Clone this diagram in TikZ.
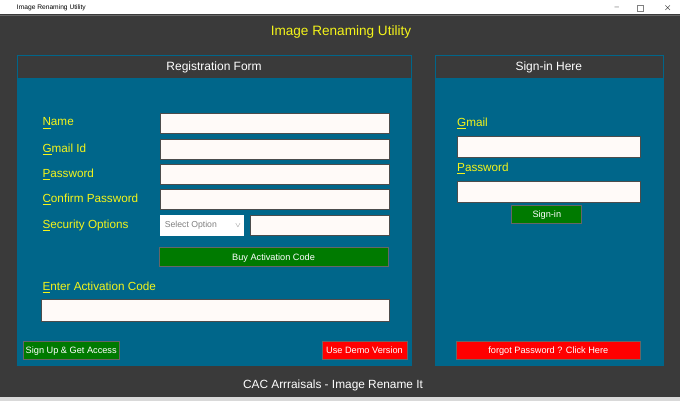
\documentclass[tikz,border=0pt]{standalone}
\usepackage{fontspec}
\setmainfont{Liberation Sans}
\usepackage{xcolor}
\definecolor{winbg}{HTML}{3A3A3A}
\definecolor{teal}{HTML}{00668A}
\definecolor{ygold}{HTML}{F4F41A}
\definecolor{entrybg}{HTML}{FFFAF8}
\definecolor{btngreen}{HTML}{007A00}
\begin{document}
\begin{tikzpicture}[x=0.75pt,y=-0.75pt,
  lbl/.style={anchor=west,inner sep=0pt,text=ygold,font=\fontsize{8.8}{10}\selectfont},
  entry/.style={fill=entrybg,draw=black!70,line width=0.6pt},
  btn/.style={draw=black!60,line width=0.6pt,text=white,inner sep=0pt,
    font=\fontsize{6.9}{8}\selectfont,text depth=0pt}]
\fill[winbg] (0,0) rectangle (680,400);
\fill[white] (0,0) rectangle (680,13);
\draw[black!60] (0,13.5) -- (680,13.5);
\fill[black!15] (0,396) rectangle (680,400);
\node[anchor=west,font=\fontsize{5}{6}\selectfont] (wtitle) at (12,6.5) {Image Renaming Utility};
\node[font=\fontsize{6}{6}\selectfont,text=black!60] (wmin) at (617,6.5) {--};
\draw[black!50] (637,3.5) rectangle (643,9.5);
\node[font=\fontsize{7}{7}\selectfont] (wclose) at (668,6.5) {$\times$};
\node[text=ygold,font=\fontsize{10.2}{12}\selectfont] (title) at (341,31) {Image Renaming Utility};
% panels
\fill[teal] (17,54) rectangle (412,365);
\fill[winbg] (18,55) rectangle (411,77);
\node[text=white,font=\fontsize{9}{10}\selectfont] (reghead) at (214,66) {Registration Form};
\fill[teal] (435,54) rectangle (664,365);
\fill[winbg] (436,55) rectangle (663,77);
\node[text=white,font=\fontsize{9}{10}\selectfont] (signhead) at (549,66) {Sign-in Here};
% registration fields
\foreach \y/\t/\n in {122/{\underline{N}ame}/name, 148/{\underline{G}mail Id}/gmail,
    173/{\underline{P}assword}/pass, 198/{\underline{C}onfirm Password}/conf,
    224/{\underline{S}ecurity Options}/secu}{
  \node[lbl] (l\n) at (42,\y) {\t};
}
\foreach \y/\n in {122/name, 148/gmail, 173/pass, 198/conf}{
  \draw[entry] (160,\y-10) rectangle (389,\y+10);
}
\draw[fill=white,draw=white] (160,214) rectangle (243,234);
\node[anchor=west,text=black!50,font=\fontsize{6.5}{7}\selectfont] (select) at (160,224) {Select Option};
\node[text=black!50,font=\fontsize{5}{6}\selectfont] (selarrow) at (238,224) {$\vee$};
\draw[entry] (250,214) rectangle (389,234);
\node[btn,fill=btngreen,minimum width=229*0.75pt,minimum height=19*0.75pt] (buy) at (273.5,255.5) {Buy Activation Code};
\node[lbl] (lcode) at (42,286) {\underline{E}nter Activation Code};
\draw[entry] (41,298) rectangle (389,320);
\node[btn,fill=btngreen,minimum width=96*0.75pt,minimum height=18*0.75pt] (signup) at (71,349) {Sign Up \& Get Access};
\node[btn,fill=red,minimum width=85*0.75pt,minimum height=18*0.75pt] (demo) at (364.5,349) {Use Demo Version};
% sign-in
\node[lbl] (lsgmail) at (457,122) {\underline{G}mail};
\draw[entry] (457,135) rectangle (641,156);
\node[lbl] (lspass) at (457,167) {\underline{P}assword};
\draw[entry] (457,180) rectangle (641,201);
\node[btn,fill=btngreen,minimum width=70*0.75pt,minimum height=18*0.75pt] (signin) at (547,213) {Sign-in};
\node[btn,fill=red,minimum width=185*0.75pt,minimum height=18*0.75pt] (forgot) at (548.5,349) {forgot Password ? Click Here};
\node[text=white,font=\fontsize{8.9}{10}\selectfont] (footer) at (333,384) {CAC Arrraisals - Image Rename It};
\end{tikzpicture}
\end{document}
